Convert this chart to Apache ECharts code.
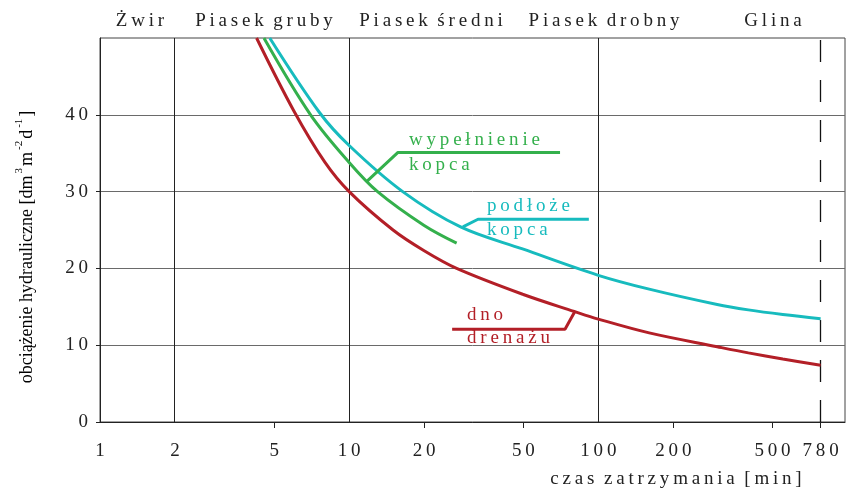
<!DOCTYPE html>
<html>
<head>
<meta charset="utf-8">
<script src="https://cdn.jsdelivr.net/npm/echarts@6/dist/echarts.min.js"></script>
<style>
  html, body { margin: 0; padding: 0; background: #fff; }
  #chart { width: 860px; height: 491px; }
</style>
</head>
<body>
<div id="chart"></div>
<script>
// czas zatrzymania [min] i obciazenie hydrauliczne
const dnoT = [4.25, 6, 8, 10, 15, 20, 27, 50, 80, 100, 160, 300, 400, 550, 780];
const dnoV = [50, 40.5, 33.8, 30, 25, 22.3, 20, 16.6, 14.4, 13.4, 11.6, 9.8, 9.0, 8.2, 7.4];
const wypT = [4.55, 7, 10, 13, 20, 27];
const wypV = [50, 40, 33.8, 30, 25.6, 23.3];
const podT = [4.8, 7.6, 10, 16.4, 28, 50, 100, 160, 300, 400, 550, 780];
const podV = [50, 40.3, 36, 30, 25.4, 22.5, 19.1, 17.3, 15.3, 14.6, 14.0, 13.45];

// linie odniesienia do opisow
const wypLeader = [[11.75, 31.3], [15.7, 35.1], [70.2, 35.1]];
const podLeader = [[28.6, 25.4], [32.9, 26.4], [91.6, 26.4]];
const dnoLeader = [[80.5, 14.4], [73.5, 12.07], [25.9, 12.07]];

const xTicks = [1, 2, 5, 10, 20, 50, 100, 200, 500, 780];
const xMinorTicks = [5, 20, 50, 200, 500, 780];
const xGridLines = [2, 10, 100];
const xDashed = 780;
const yTicks = [0, 10, 20, 30, 40];
const soilNames = ["Żwir", "Piasek gruby", "Piasek średni", "Piasek drobny", "Glina"];
const soilCenters = [140, 264, 431, 604, 773];

const RED = "#b31f27";
const GREEN = "#34b04c";
const CYAN = "#17bbbe";
const FONT = "Liberation Serif";

const lg = (t) => Math.log10(t);
const spaced = (s) => String(s).split("").join("\u2009");
const toData = (ts, vs) => ts.map((t, i) => [lg(t), vs[i]]);
const leader = (pts) => pts.map((p) => [lg(p[0]), p[1]]);

const chart = echarts.init(document.getElementById("chart"));

const curve = (name, ts, vs, color) => ({
  name: name,
  type: "line",
  data: toData(ts, vs),
  smooth: 0.35,
  showSymbol: false,
  lineStyle: { color: color, width: 3 },
  z: 5,
});
const leaderLine = (pts, color) => ({
  type: "line",
  data: leader(pts),
  showSymbol: false,
  lineStyle: { color: color, width: 3 },
  z: 5,
});

const labelText = (txt, x, y, color) => ({
  type: "text",
  left: x,
  top: y - 10,
  style: {
    text: spaced(txt),
    fill: color,
    font: "19px '" + FONT + "'",
  },
});

const option = {
  backgroundColor: "#fff",
  animation: false,
  grid: {
    left: 100,
    right: 15,
    top: 38,
    bottom: 69,
    show: true,
    borderColor: "#444",
    borderWidth: 1,
  },
  xAxis: {
    type: "value",
    min: 0,
    max: 2.99,
    axisLine: { lineStyle: { color: "#222", width: 1 } },
    axisTick: {
      show: true,
      length: 6,
      customValues: xMinorTicks.map(lg),
      lineStyle: { color: "#222" },
    },
    splitLine: { show: false },
    axisLabel: {
      customValues: xTicks.map(lg),
      margin: 20,
      color: "#222",
      fontFamily: FONT,
      fontSize: 19,
      formatter: (v) => spaced(Math.round(Math.pow(10, v))),
    },
  },
  yAxis: {
    type: "value",
    min: 0,
    max: 50,
    interval: 10,
    axisLine: { show: true, lineStyle: { color: "#222" } },
    axisTick: { show: true, length: 4, customValues: yTicks, lineStyle: { color: "#222" } },
    splitLine: { show: true, lineStyle: { color: "#6a6a6a", width: 1 } },
    axisLabel: {
      customValues: yTicks,
      margin: 12,
      color: "#222",
      fontFamily: FONT,
      fontSize: 19,
      formatter: (v) => spaced(v),
    },
  },
  series: [
    Object.assign(curve("dno drenażu", dnoT, dnoV, RED), {
      markLine: {
        silent: true,
        symbol: "none",
        label: { show: false },
        data: xGridLines
          .map((t) => ({ xAxis: lg(t), lineStyle: { color: "#222", width: 1, type: "solid" } }))
          .concat([{ xAxis: lg(xDashed), lineStyle: { color: "#111", width: 1.3, type: [22, 18] } }]),
        z: 1,
      },
    }),
    curve("wypełnienie kopca", wypT, wypV, GREEN),
    curve("podłoże kopca", podT, podV, CYAN),
    leaderLine(wypLeader, GREEN),
    leaderLine(podLeader, CYAN),
    leaderLine(dnoLeader, RED),
  ],
  graphic: soilNames
    .map((n, i) => ({
      type: "text",
      x: soilCenters[i],
      y: 21,
      style: {
        text: spaced(n).replace(/\u2009 \u2009/g, "  "),
        fill: "#222",
        font: "19px '" + FONT + "'",
        align: "center",
        verticalAlign: "middle",
      },
    }))
    .concat([
      labelText("wypełnienie", 409, 141, GREEN),
      labelText("kopca", 409, 166, GREEN),
      labelText("podłoże", 487, 207, CYAN),
      labelText("kopca", 487, 231, CYAN),
      labelText("dno", 467, 316, RED),
      labelText("drenażu", 467, 339, RED),
      {
        type: "text",
        x: 676,
        y: 479,
        style: {
          text: spaced("czas zatrzymania [min]").replace(/\u2009 \u2009/g, "  "),
          fill: "#222",
          font: "19px '" + FONT + "'",
          align: "center",
          verticalAlign: "middle",
        },
      },
      {
        type: "text",
        x: 25,
        y: 247,
        rotation: Math.PI / 2,
        style: {
          text: "{n|obciążenie hydrauliczne [dm}{s|3}{n|m}{s|-2}{n|d}{s|-1}{n|]}",
          align: "center",
          verticalAlign: "middle",
          rich: {
            n: { fontFamily: FONT, fontSize: 18, color: "#222", lineHeight: 22, verticalAlign: "bottom" },
            s: { fontFamily: FONT, fontSize: 11, color: "#222", lineHeight: 22, verticalAlign: "top", padding: [0, 2, 0, 2] },
          },
        },
      },
    ]),
};

chart.setOption(option);
</script>
</body>
</html>
